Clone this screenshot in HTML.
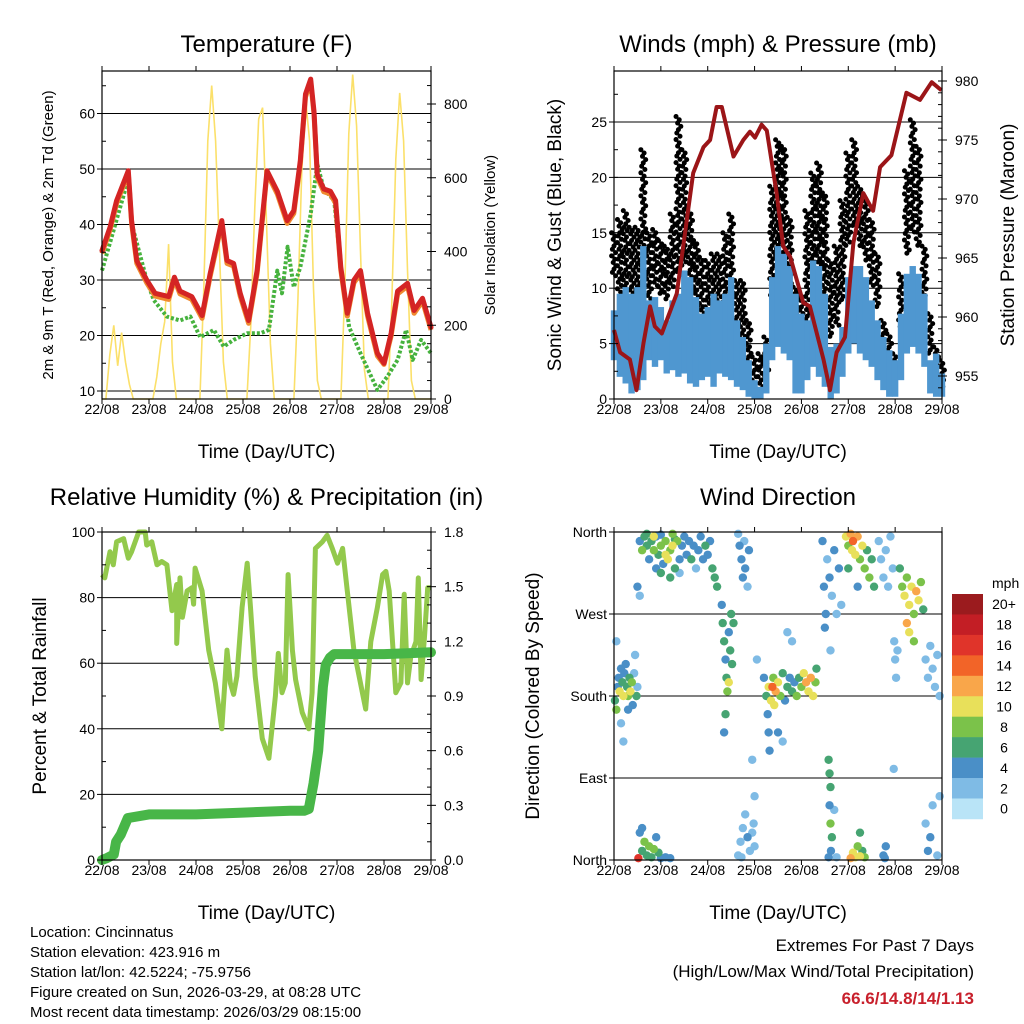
<!DOCTYPE html>
<html><head><meta charset="utf-8">
<style>
html,body{margin:0;padding:0;background:#fff;}
svg{display:block;font-family:"Liberation Sans",Arial,sans-serif;}
</style></head>
<body>
<svg id="chart" xmlns="http://www.w3.org/2000/svg" width="1024" height="1024" viewBox="0 0 1024 1024">
<rect x="0" y="0" width="1024" height="1024" fill="#fff"/>
<g id="layer"></g>
<g font-size="15" fill="#000">
<text x="30" y="937">Location: Cincinnatus</text>
<text x="30" y="957">Station elevation: 423.916 m</text>
<text x="30" y="977">Station lat/lon: 42.5224; -75.9756</text>
<text x="30" y="997">Figure created on Sun, 2026-03-29, at 08:28 UTC</text>
<text x="30" y="1017">Most recent data timestamp: 2026/03/29 08:15:00</text>
</g>
<g text-anchor="end">
<text x="974" y="951" font-size="17">Extremes For Past 7 Days</text>
<text x="974" y="977" font-size="17">(High/Low/Max Wind/Total Precipitation)</text>
<text x="974" y="1004" font-size="17" font-weight="bold" fill="#c8202c">66.6/14.8/14/1.13</text>
</g>
</svg>
<script>
// ---------- DATA ----------
const dayLabels = ["22/08","23/08","24/08","25/08","26/08","27/08","28/08","29/08"];
// Temperature
const redDays = [0,.17,.31,.56,.63,.74,.95,1.13,1.42,1.54,1.66,1.91,2.13,2.30,2.55,2.66,2.80,2.94,3.12,3.30,3.51,3.73,3.94,4.08,4.22,4.33,4.44,4.51,4.58,4.72,4.86,4.97,5.08,5.22,5.36,5.50,5.65,5.86,6.00,6.15,6.29,6.50,6.64,6.82,7.0];
const redTemp = [35.3,39.5,44.3,49.7,40.7,33.5,30,27.6,27,30.5,28,27,23.6,31.1,40.7,33.5,33,27.6,22.7,31.7,49.7,46,40.7,42.5,51.5,63.5,66.2,60.4,49,46.4,46,44.3,32.3,24,30,31.7,24,16.8,15,20.4,28,29.4,24.5,26.7,21.5];
const orangeTemp = [34.8,39,43.8,49.2,40.2,33,29.5,27.1,26.5,30,27.5,26.5,23.1,30.6,40.2,33,32.5,27.1,22.2,31.2,49.2,45.5,40.2,42,51,63,65.7,59.9,48.5,45.9,45.5,43.8,31.8,23.5,29.5,31.2,23.5,16.3,14.8,19.9,27.5,28.9,24,26.2,21];
const dewDays = [0,.56,.63,.95,1.10,1.38,1.66,1.88,2.09,2.38,2.59,2.80,3.09,3.37,3.55,3.73,3.83,3.95,4.08,4.22,4.44,4.58,4.72,4.94,5.08,5.26,5.50,5.86,6.07,6.29,6.47,6.61,6.79,7.0];
const dewTemp = [31.7,48.2,40.2,30,26.4,23.4,22.7,23.4,19.7,21,18,19.2,20.4,20.4,21,31.7,27.6,36,28.7,32.3,41.9,50.9,46.4,44.3,32.3,21.5,16.8,10.2,12.6,15.6,21,15.6,19.2,16.8];
// Solar insolation, every 2 hours
const solar = [
0,0,120,200,90,180,100,40,0,0,0,0,
0,0,60,150,210,420,100,0,0,0,0,0,
0,0,300,700,850,700,400,100,0,0,0,0,
0,0,200,520,760,790,480,150,0,0,0,0,
0,0,260,620,810,700,300,50,0,0,0,0,
0,0,300,720,880,740,400,80,0,0,0,0,
0,0,260,650,830,700,350,50,0,0,0,0,0];
// Winds every 3 hours
const windHi = [8,9.5,10.1,9.5,10.1,13.8,8.9,9.2,8.3,7.1,8.9,9.5,11.6,11,9.2,7.7,8.3,9.5,8.9,9.5,11,7.1,5.6,3.5,1.7,1.1,5,11,13.8,13.1,12,9.5,7.7,7.1,12.5,12,9.5,4.7,5,6.5,11,12,12,11,8.9,7.1,5.6,4.4,3.5,7.7,11.3,12,11.3,9.5,3.5,4.1,2.3];
const windLo = [3.5,2,1.4,.5,.8,1.7,3.5,2.9,3.5,2.3,2.6,2,2.3,1.4,1.1,1.7,2,1.1,2.3,2,1.7,1.1,.8,.2,0,0,.5,3.5,4.7,4.1,3.5,.5,.5,1.7,2.9,2,1.1,0,.5,2,4.1,5,4.1,3.5,2.9,1.7,.8,.2,.2,1.7,4.1,4.7,4.1,2.9,.5,.2,.2];
const gustHi = [15,16.2,17,15.5,15.5,22.5,15,15.3,14.3,13.8,16.7,25.5,22.5,17,14.3,12.8,12.5,13.1,13.1,15,16.7,10.7,10.7,7.1,3.8,4.1,5.6,19.2,23.4,22.8,16.4,10.1,9.5,17,20.4,21.3,18.6,12.5,13.8,17.9,22.2,23.4,19.2,17.9,16.2,13.1,7.1,5.9,4.1,11.3,20.6,25.2,22.8,13.8,7.7,4.7,3.5];
const gustLo = [11,9.5,8.9,8,7.7,9.5,8.9,10.1,9.5,8.9,10.1,11,12,9.5,7.7,6.5,6.5,7.1,7.1,7.7,8.9,5,4.4,2.9,1.7,1.1,2,8.9,12.5,12,9.5,5,4.1,6.5,11.3,12,9.5,5.6,6.5,8.9,13.8,15.5,13.8,12.5,10.1,8.3,4.1,2.9,2,6.5,13.1,15,13.8,8.9,4.1,2.6,1.1];
const presDays = [0,.13,.34,.48,.63,.77,.87,1.02,1.34,1.69,1.91,2.05,2.19,2.30,2.55,2.76,2.90,3.01,3.15,3.26,3.47,3.61,3.76,4.04,4.18,4.47,4.61,4.75,4.93,5.11,5.32,5.53,5.68,5.92,6.24,6.53,6.78,6.99];
const pressure = [958.9,957,956.4,953.8,957.8,960.9,959.2,958.6,962,972.2,974.4,975,977.8,977.8,973.6,975,975.7,975.2,976.3,975.8,970.5,966,965.1,961.2,960.9,956.4,953.8,957,958.3,966.3,970.5,969,972.7,973.7,979,978.4,979.9,979.2];
// RH and rainfall
const rhDays = [0,.06,.17,.24,.31,.46,.56,.63,.78,.92,.95,1.06,1.17,1.27,1.38,1.49,1.59,1.59,1.66,1.71,1.81,1.91,1.95,1.98,2.13,2.27,2.41,2.55,2.66,2.73,2.80,2.87,2.98,3.09,3.16,3.26,3.41,3.55,3.69,3.75,3.83,3.90,3.96,4.05,4.12,4.26,4.40,4.47,4.54,4.69,4.79,4.90,5.01,5.12,5.22,5.36,5.54,5.61,5.72,5.86,5.97,6.04,6.11,6.18,6.25,6.36,6.43,6.50,6.57,6.68,6.73,6.79,6.86,6.93,7.0];
const rh = [87,86,94,90,97,98,92,94,100,100,96,97,90,91,90,76,84,66,86,74,82,83,78,89,82,64,54,40,64,54,50.5,56,77,90.5,77,56,37,31,50,63,51,54,87,64,55,45,40,51,95,97,99,95,90.5,95,82,64,51,46,66.6,77,87,88,82,66.6,51,54,81,54,62,66.6,86,55,67.6,83,83];
const rainDays = [0,.1,.25,.3,.4,.55,1,2,3,4,4.3,4.4,4.5,4.6,4.7,4.76,4.85,4.94,5.5,6,6.5,7];
const rain = [0,.01,.03,.1,.14,.23,.25,.25,.26,.27,.27,.28,.42,.6,.95,1.07,1.11,1.13,1.13,1.13,1.135,1.14];
// Wind direction scatter [day, deg, speed]
const dirPts = [
[0.02,175,6],[0.05,165,8],[0.08,190,4],[0.1,200,4],[0.12,185,10],[0.15,210,4],[0.18,195,6],[0.2,180,10],[0.22,205,4],[0.25,215,4],[0.28,190,6],[0.3,180,8],[0.33,200,6],[0.35,185,10],[0.38,195,8],[0.4,170,4],[0.43,205,2],[0.45,225,2],[0.48,180,6],[0.5,190,2],[0.15,150,2],[0.2,130,2],[0.05,240,2],[0.3,165,4],
[0.55,350,4],[0.6,340,8],[0.65,355,6],[0.7,345,6],[0.75,330,4],[0.8,350,6],[0.85,340,8],[0.9,355,4],[0.95,335,6],[1.0,345,8],[1.05,325,4],[1.1,350,8],[1.15,330,10],[1.2,340,8],[1.25,345,10],[1.3,320,6],[1.35,350,8],[1.4,330,4],[1.45,345,4],[1.5,355,4],[1.55,335,4],[1.6,350,4],[1.65,330,6],[1.7,345,4],[1.75,320,2],[1.8,340,4],[1.85,355,4],[1.9,330,4],[1.95,345,6],[2.0,335,4],[2.05,350,4],[2.1,320,6],[2.15,310,6],[2.2,300,6],[1.2,310,6],[1.0,315,6],[0.9,320,4],[1.4,315,2],[0.5,300,4],[0.55,290,2],[1.1,335,10],[1.25,358,8],[0.7,358,6],[0.85,355,10],[1.3,352,6],[1.0,357,4],
[2.3,280,4],[2.32,260,6],[2.35,240,6],[2.38,220,4],[2.4,200,6],[2.42,185,8],[2.45,250,4],[2.48,230,6],[2.5,270,6],[2.52,215,6],[2.55,260,6],[2.38,160,6],[2.35,140,4],[2.45,195,10],
[2.65,358,2],[2.68,345,4],[2.72,330,4],[2.75,310,4],[2.78,350,2],[2.8,320,4],[2.85,300,2],[2.88,340,4],
[3.2,200,4],[3.25,180,6],[3.28,160,4],[3.3,190,10],[3.35,175,10],[3.4,200,8],[3.42,170,10],[3.45,185,12],[3.5,195,10],[3.55,180,8],[3.6,205,6],[3.65,175,4],[3.7,190,6],[3.75,200,4],[3.8,185,6],[3.85,195,4],[3.9,180,8],[3.95,200,6],[4.0,190,8],[4.05,205,10],[4.1,195,12],[4.15,185,10],[4.2,200,12],[4.25,180,10],[4.3,195,8],[4.32,210,6],[3.3,140,4],[3.32,120,4],[3.5,140,4],[3.6,130,2],[2.95,110,2],[3.0,70,2],[2.98,40,2],[3.05,220,2],[3.8,240,2],[3.7,250,2],[3.38,190,14],
[4.45,350,4],[4.48,300,4],[4.52,270,4],[4.55,330,2],[4.6,310,4],[4.65,290,2],[4.7,340,4],[4.75,270,2],[4.8,320,4],[4.85,280,2],[4.5,255,4],[4.62,230,2],
[4.95,355,10],[5.0,345,8],[5.05,358,12],[5.08,340,10],[5.1,350,14],[5.15,335,10],[5.2,355,12],[5.25,330,8],[5.3,345,10],[5.35,320,8],[5.4,340,6],[5.45,310,8],[5.5,330,6],[5.55,300,6],[5.0,320,6],[5.2,300,4],
[5.65,350,2],[5.7,330,2],[5.75,310,2],[5.8,340,2],[5.85,300,2],[5.9,355,2],[5.95,320,2],
[6.1,320,6],[6.15,300,8],[6.2,290,10],[6.25,310,8],[6.3,280,10],[6.35,300,10],[6.4,270,8],[6.45,295,12],[6.5,285,10],[6.55,305,8],[6.6,275,6],[6.25,260,12],[6.3,250,10],[6.4,240,8],
[5.98,240,2],[6.0,220,2],[6.02,200,2],[6.05,230,2],[5.97,100,2],
[6.65,220,2],[6.7,200,2],[6.75,235,2],[6.8,210,2],[6.85,190,2],[6.9,225,2],[6.95,180,2],
[0.55,30,4],[0.6,10,6],[0.65,20,8],[0.7,5,6],[0.75,15,8],[0.8,3,6],[0.85,12,8],[0.9,25,4],[0.95,8,6],[1.0,2,4],[1.1,3,4],[1.2,2,4],[0.52,2,16],[0.6,35,4],
[2.65,5,2],[2.7,20,2],[2.75,35,2],[2.8,50,2],[2.85,25,4],[2.9,10,2],[2.95,30,2],[3.0,15,2],[2.72,3,2],
[4.58,110,6],[4.6,95,6],[4.62,80,6],[4.6,60,4],[4.62,40,8],[4.65,25,6],[4.63,10,4],[4.58,3,4],[4.7,55,2],[4.75,3,2],
[5.05,2,12],[5.1,8,10],[5.15,3,10],[5.2,15,8],[5.25,4,10],[5.3,10,6],[5.35,3,8],[5.25,30,6],
[5.75,5,4],[5.8,15,4],[5.78,2,4],
[6.65,40,2],[6.7,10,4],[6.8,60,2],[6.9,5,2],[6.95,70,2],[6.75,25,4]];
const speedLabels = ["0","2","4","6","8","10","12","14","16","18","20+"];
const speedColors = ["#b9e4f7","#7fbbe5","#4a8fc7","#46a472","#7bc24a","#e8e05a","#f9a64a","#f26428","#e0342a","#c31e25","#9b1b1e"];

// ---------- HELPERS ----------
const NS="http://www.w3.org/2000/svg";
const layer=document.getElementById('layer');
function mk(tag,attrs,parent){const e=document.createElementNS(NS,tag);for(const k in attrs)e.setAttribute(k,attrs[k]);(parent||layer).appendChild(e);return e;}
function txt(s,attrs,parent){const e=mk('text',attrs,parent);e.textContent=s;return e;}
function lin(d0,d1,p0,p1){return v=>p0+(v-d0)*(p1-p0)/(d1-d0);}

function panel(name,L,R,T,B,leftTicks,ly,title){
  const g=mk('g',{});
  
  
  const xs=lin(0,7,L,R);
  leftTicks.forEach(v=>{const gl=mk('line',{x1:L,x2:R,y1:ly(v),y2:ly(v),stroke:'#000','stroke-width':1},g);
    
    });
  const t=txt(title,{x:(L+R)/2,y:52,'font-size':24,'text-anchor':'middle'},g);
  if(T>500)t.setAttribute('y',505);
  
  
  return {g,xs};
}
function frame(g,L,R,T,B,leftTicks,leftFmt,ly,rightTicks,rightFmt,ry,leftMinor,rightMinor,leftTitle,rightTitle,ltx,rtx,ltSize,rtSize){
  const xs=lin(0,7,L,R);
  mk('rect',{x:L,y:T,width:R-L,height:B-T,fill:'none',stroke:'#000','stroke-width':1.2},g);
  const ax=mk('g',{'font-size':14},g);
  
  
  dayLabels.forEach((s,i)=>{const x=xs(i);
    mk('line',{x1:x,x2:x,y1:B,y2:B+5,stroke:'#000'},ax);
    mk('line',{x1:x,x2:x,y1:T,y2:T-5,stroke:'#000'},ax);
    const tl=txt(s,{x:x,y:B+15,'text-anchor':'middle'},ax);
    
    });
  const xt=txt('Time (Day/UTC)',{x:(L+R)/2,y:B+59,'font-size':19,'text-anchor':'middle'},g);
  
  
  const ya=mk('g',{'font-size':14},g);
  
  
  leftTicks.forEach(v=>{const y=ly(v);mk('line',{x1:L-5,x2:L,y1:y,y2:y,stroke:'#000'},ya);
    const tl=txt(leftFmt(v),{x:L-7,y:y+5,'text-anchor':'end'},ya);
    
    });
  leftMinor.forEach(v=>{const y=ly(v);mk('line',{x1:L,x2:L+4,y1:y,y2:y,stroke:'#000'},ya);});
  const lt=txt(leftTitle,{x:0,y:0,'font-size':ltSize,'text-anchor':'middle',transform:`translate(${ltx},${(T+B)/2}) rotate(-90)`},g);
  
  
  if(rightTicks){
    const yb=mk('g',{'font-size':14},g);
    
    
    rightTicks.forEach(v=>{const y=ry(v);mk('line',{x1:R,x2:R+5,y1:y,y2:y,stroke:'#000'},yb);
      const tl=txt(rightFmt(v),{x:R+13,y:y+5},yb);
      
      });
    rightMinor.forEach(v=>{const y=ry(v);mk('line',{x1:R-4,x2:R,y1:y,y2:y,stroke:'#000'},yb);});
    const rt=txt(rightTitle,{x:0,y:0,'font-size':rtSize,'text-anchor':'middle',transform:`translate(${rtx},${(T+B)/2}) rotate(-90)`},g);
    
    
  }
}
function pathD(xsArr,ysArr,xs,ys){return xsArr.map((d,i)=>(i?'L':'M')+xs(d).toFixed(1)+','+ys(ysArr[i]).toFixed(1)).join('');}
function range(a,b,s){const r=[];for(let v=a;v<=b+1e-9;v+=s)r.push(+v.toFixed(3));return r;}

// ---------- PANEL 1: TEMPERATURE ----------
(function(){
  const L=102,R=431,T=71,B=399;
  const ly=lin(10,60,391,113.5), ry=lin(0,800,399,104);
  const {g,xs}=panel('temperature-panel',L,R,T,B,[10,20,30,40,50,60],ly,'Temperature (F)');
  const sol=mk('path',{d:pathD(solar.map((v,i)=>i/12),solar,xs,ry),fill:'none',stroke:'#fbe06a','stroke-width':1.6},g);
  
  
  const dw=mk('path',{d:pathD(dewDays,dewTemp,xs,ly),fill:'none',stroke:'#46b23e','stroke-width':4,'stroke-dasharray':'3 2','stroke-linejoin':'round'},g);
  
  
  const or=mk('path',{d:pathD(redDays,orangeTemp,xs,ly),fill:'none',stroke:'#f08a30','stroke-width':5,'stroke-linejoin':'round'},g);
  
  
  const rd=mk('path',{d:pathD(redDays,redTemp,xs,ly),fill:'none',stroke:'#d42424','stroke-width':5,'stroke-linejoin':'round','stroke-linecap':'round'},g);
  
  
  frame(g,L,R,T,B,[10,20,30,40,50,60],v=>v,ly,[0,200,400,600,800],v=>v,ry,range(15,65,5),range(0,850,50),
   '2m & 9m T (Red, Orange) & 2m Td (Green)','Solar Insolation (Yellow)',53,495,15,15);
})();

// ---------- PANEL 2: WINDS ----------
(function(){
  const L=614,R=942,T=71,B=399;
  const ly=lin(0,25,399,122), ry=lin(955,980,376,81);
  const {g,xs}=panel('winds-panel',L,R,T,B,[0,5,10,15,20,25],ly,'Winds (mph) & Pressure (mb)');
  const gg=mk('g',{fill:'#000'},g);
  
  
  const offs=[-2.4,0.8,-0.8,2.4,0,-1.6,1.6];
  gustHi.forEach((hi,i)=>{const lo=gustLo[i];const x=xs(i/8);
    for(let y=ly(hi),k=0;y<=ly(lo)+0.1;y+=3.3,k++){mk('circle',{cx:x+offs[k%7],cy:y,r:2.5},gg);}});
  const bg=mk('g',{fill:'#4f97d0'},g);
  
  
  windHi.forEach((hi,i)=>{const x=xs(i/8);mk('rect',{x:x-3.2,y:ly(hi),width:6.4,height:Math.max(1,ly(windLo[i])-ly(hi))},bg);});
  const pr=mk('path',{d:pathD(presDays,pressure,xs,ry),fill:'none',stroke:'#9b1518','stroke-width':4,'stroke-linejoin':'round'},g);
  
  
  frame(g,L,R,T,B,[0,5,10,15,20,25],v=>v,ly,[955,960,965,970,975,980],v=>v,ry,range(0,29,2.5),range(954,980,1),
   'Sonic Wind & Gust (Blue, Black)','Station Pressure (Maroon)',561,1014,19,19);
})();

// ---------- PANEL 3: RH ----------
(function(){
  const L=102,R=431,T=532,B=860;
  const ly=lin(0,100,860,532), ry=lin(0,1.8,860,532);
  const {g,xs}=panel('humidity-precip-panel',L,R,T,B,[0,20,40,60,80,100],ly,'Relative Humidity (%) & Precipitation (in)');
  const rl=mk('path',{d:pathD(rhDays,rh,xs,ly),fill:'none',stroke:'#93c94c','stroke-width':5,'stroke-linejoin':'round'},g);
  
  
  const pl=mk('path',{d:pathD(rainDays,rain,xs,ry),fill:'none',stroke:'#48b648','stroke-width':10,'stroke-linejoin':'round','stroke-linecap':'round'},g);
  
  
  frame(g,L,R,T,B,[0,20,40,60,80,100],v=>v,ly,[0,.3,.6,.9,1.2,1.5,1.8],v=>v.toFixed(1),ry,range(10,90,20),range(0.1,1.7,0.1),
   'Percent & Total Rainfall','',46,0,19,19);
})();

// ---------- PANEL 4: WIND DIRECTION ----------
(function(){
  const L=614,R=942,T=532,B=860;
  const ly=lin(0,360,860,532);
  const {g,xs}=panel('wind-direction-panel',L,R,T,B,[0,90,180,270,360],ly,'Wind Direction');
  const sg=mk('g',{},g);
  
  
  const sorted=dirPts.slice().sort((a,b)=>a[2]-b[2]);
  sorted.forEach(p=>{const bin=Math.min(10,Math.floor(p[2]/2));
    const c=mk('circle',{cx:xs(p[0]),cy:ly(p[1]),r:4.2,fill:speedColors[bin]},sg);
    
    });
  const names=['North','East','South','West','North'];
  frame(g,L,R,T,B,[0,90,180,270,360],v=>names[v/90],ly,null,null,null,[],[],
   'Direction (Colored By Speed)','',539,0,19,19);
  const cb=mk('g',{},g);
  
  
  const bh=20.45, top=594;
  txt('mph',{x:992,y:588,'font-size':14},cb);
  for(let i=0;i<speedColors.length;i++){
    const k=speedColors.length-1-i;
    const r=mk('rect',{x:952,y:top+i*bh,width:31,height:bh+0.3,fill:speedColors[k]},cb);
    
    
    const tl=txt(speedLabels[k],{x:1004,y:top+i*bh+bh/2+5,'font-size':14,'text-anchor':'middle'},cb);
    
    
  }
})();
</script>
</body></html>
